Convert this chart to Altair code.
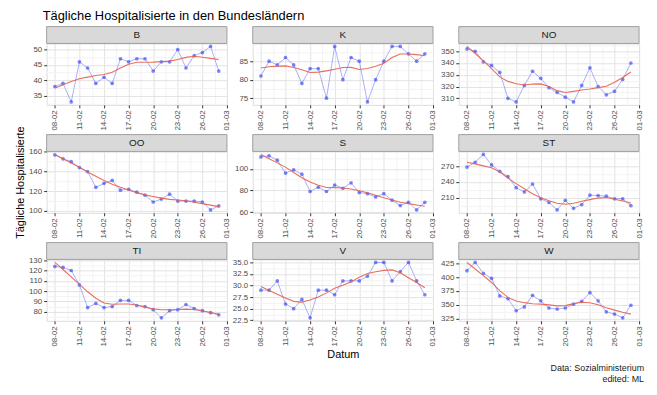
import altair as alt
import pandas as pd

FONT = "Liberation Sans"

dates = ["2021-02-08", "2021-02-09", "2021-02-10", "2021-02-11", "2021-02-12", "2021-02-13",
         "2021-02-14", "2021-02-15", "2021-02-16", "2021-02-17", "2021-02-18", "2021-02-19",
         "2021-02-20", "2021-02-21", "2021-02-22", "2021-02-23", "2021-02-24", "2021-02-25",
         "2021-02-26", "2021-02-27", "2021-02-28"]

B = [38, 39, 33, 46, 44, 39, 41, 39, 47, 46, 47, 47, 43, 46, 46, 50, 44, 48, 49, 51, 43]
K = [81, 85, 84, 86, 84, 79, 83, 83, 75, 89, 80, 86, 85, 74, 80, 85, 89, 89, 87, 85, 87]
NO = [352, 350, 341, 338, 332, 310, 307, 321, 333, 327, 319, 315, 311, 307, 321, 336, 320, 313, 316, 326, 340]
OO = [157, 153, 150, 144, 140, 124, 128, 131, 121, 122, 119, 116, 109, 112, 117, 110, 110, 110, 109, 101, 105]
S = [111, 112, 108, 96, 99, 95, 79, 83, 79, 85, 82, 87, 78, 77, 74, 77, 71, 66, 69, 62, 69]
ST = [268, 277, 292, 272, 260, 250, 229, 221, 236, 208, 201, 187, 205, 190, 197, 215, 214, 213, 208, 208, 195]
TI = [124, 123, 120, 106, 84, 88, 84, 85, 91, 91, 86, 85, 82, 74, 81, 82, 87, 83, 81, 79, 77]
V = [29, 29, 31, 26, 25, 27, 23, 29, 29, 28, 31, 31, 31, 32, 35, 35, 31, 33, 35, 31, 28]
W = [412, 427, 407, 398, 366, 361, 339, 346, 367, 357, 344, 342, 344, 351, 356, 372, 357, 337, 333, 326, 349]

states = ["B", "K", "NO", "OO", "S", "ST", "TI", "V", "W"]
series = {"B": B, "K": K, "NO": NO, "OO": OO, "S": S, "ST": ST, "TI": TI, "V": V, "W": W}

y_major = {
    "B": [35, 40, 45, 50], "K": [75, 80, 85], "NO": [310, 320, 330, 340, 350],
    "OO": [100, 120, 140, 160], "S": [60, 80, 100], "ST": [210, 240, 270],
    "TI": [80, 90, 100, 110, 120, 130], "V": [22.5, 25.0, 27.5, 30.0, 32.5, 35.0],
    "W": [325, 350, 375, 400, 425],
}
y_minor = {
    "B": [32.5, 37.5, 42.5, 47.5], "K": [77.5, 82.5, 87.5], "NO": [315, 325, 335, 345, 355],
    "OO": [110, 130, 150], "S": [70, 90, 110], "ST": [195, 225, 255, 285],
    "TI": [75, 85, 95, 105, 115, 125], "V": [23.75, 26.25, 28.75, 31.25, 33.75],
    "W": [337.5, 362.5, 387.5, 412.5],
}
y_fmt = {s: "d" for s in states}
y_fmt["V"] = ".1f"

x_major = [(2, 8), (2, 11), (2, 14), (2, 17), (2, 20), (2, 23), (2, 26), (3, 1)]
x_minor = [(2, 9), (2, 12), (2, 15), (2, 18), (2, 21), (2, 24), (2, 27)]

title_text = "Tägliche Hospitalisierte in den Bundesländern"
y_title = "Tägliche Hospitalisierte"
x_title = "Datum"
caption = ["Data: Sozialministerium", "edited: ML"]

rows = []
for s in states:
    for d, v in zip(dates, series[s]):
        rows.append({"state": s, "date": d + "T00:00:00", "value": v})
df = pd.DataFrame(rows)

PW, PH = 182, 62
STRIP = 17

x_values = [alt.DateTime(year=2021, month=m, date=d) for m, d in x_major] + \
           [alt.DateTime(year=2021, month=m, date=d, hours=12) for m, d in x_minor]


def x_axis(title):
    if title:
        kw = dict(title=title, titleFontSize=11, titleFont=FONT, titleFontWeight="normal",
                  titleColor="#000000", titlePadding=3)
    else:
        kw = dict(title=None)
    return alt.Axis(
        values=x_values,
        labelExpr="hours(datum.value) == 12 ? '' : timeFormat(datum.value, '%d-%m')",
        labelAngle=270, labelFontSize=8, labelFont=FONT, labelColor="#4D4D4D",
        labelPadding=2, labelOverlap=False, labelFlush=False, labelBound=False,
        tickSize=3, tickColor="#333333",
        tickOpacity={"condition": {"test": "hours(datum.value) == 12", "value": 0}, "value": 1},
        gridColor={"condition": {"test": "hours(datum.value) == 12", "value": "#F3F3F3"}, "value": "#E3E3E3"},
        domain=False, **kw)


def y_axis(s, with_title):
    maj = str(y_major[s])
    kw = dict(title=None)
    if with_title:
        kw = dict(title=y_title, titleFontSize=11, titleFont=FONT, titleFontWeight="normal",
                  titleColor="#000000", titlePadding=3)
    return alt.Axis(
        values=y_major[s] + y_minor[s],
        labelExpr=f"indexof({maj}, datum.value) >= 0 ? format(datum.value, '{y_fmt[s]}') : ''",
        labelFontSize=8, labelFont=FONT, labelColor="#4D4D4D", labelPadding=2,
        labelOverlap=False, labelFlush=False, labelBound=False,
        tickSize=3, tickColor="#333333",
        tickOpacity={"condition": {"test": f"indexof({maj}, datum.value) < 0", "value": 0}, "value": 1},
        gridColor={"condition": {"test": f"indexof({maj}, datum.value) < 0", "value": "#F3F3F3"}, "value": "#E3E3E3"},
        minExtent=18, maxExtent=18,
        domain=False, **kw)


def panel(s):
    base = alt.Chart(df).transform_filter(alt.datum.state == s).transform_calculate(
        t="toDate(datum.date)")
    xenc = alt.X("t:T", scale=alt.Scale(domain=[alt.DateTime(year=2021, month=2, date=7),
                                                alt.DateTime(year=2021, month=3, date=1)], nice=False),
                 axis=x_axis(x_title if s == "V" else None))
    yenc = alt.Y("value:Q", scale=alt.Scale(zero=False, nice=False, padding=3),
                 axis=y_axis(s, s == "OO"))
    line = base.mark_line(color="#2B3BF0", opacity=0.4, strokeWidth=1).encode(x=xenc, y=yenc)
    pts = base.mark_circle(color="#2B3BF0", opacity=0.6, size=14).encode(x=xenc, y=yenc)
    smooth = base.transform_loess("t", "value", bandwidth=0.4).mark_line(
        color="#E5604A", strokeWidth=1.1, opacity=0.9).encode(x=xenc, y=yenc)

    sdf = pd.DataFrame({"state": [s]})
    rect = alt.Chart(sdf).mark_rect(fill="#D9D9D9", stroke="#A0A0A0", strokeWidth=1).encode(
        x=alt.value(0), x2=alt.value(PW), y=alt.value(-STRIP), y2=alt.value(0))
    txt = alt.Chart(sdf).mark_text(fontSize=10, font=FONT, color="#1A1A1A").encode(
        text="state:N", x=alt.value(PW / 2), y=alt.value(-STRIP / 2))
    layers = [rect, txt, line, pts, smooth]
    if s == "W":
        for i, c in enumerate(caption):
            layers.append(alt.Chart(pd.DataFrame({"c": [c]})).mark_text(
                fontSize=9, font=FONT, color="#1A1A1A", align="right").encode(
                text="c:N", x=alt.value(PW + 5), y=alt.value(PH + 48 + 11 * i)))
    return alt.layer(*layers).properties(width=PW, height=PH)


chart = alt.concat(*[panel(s) for s in states], columns=3,
                   spacing={"row": 47, "column": 26}, bounds="flush").resolve_scale(
    x="independent", y="independent").properties(
    title=alt.TitleParams(title_text, anchor="start", frame="group", fontSize=13, font=FONT,
                          fontWeight="normal", color="#000000", offset=3, dx=-4),
    padding={"left": 6, "top": 0, "right": 4, "bottom": 0},
).configure_view(stroke="#BDBDBD", strokeWidth=1).configure(background="white")

chart.save("out.html", embed_options={"renderer": "svg", "actions": False})
